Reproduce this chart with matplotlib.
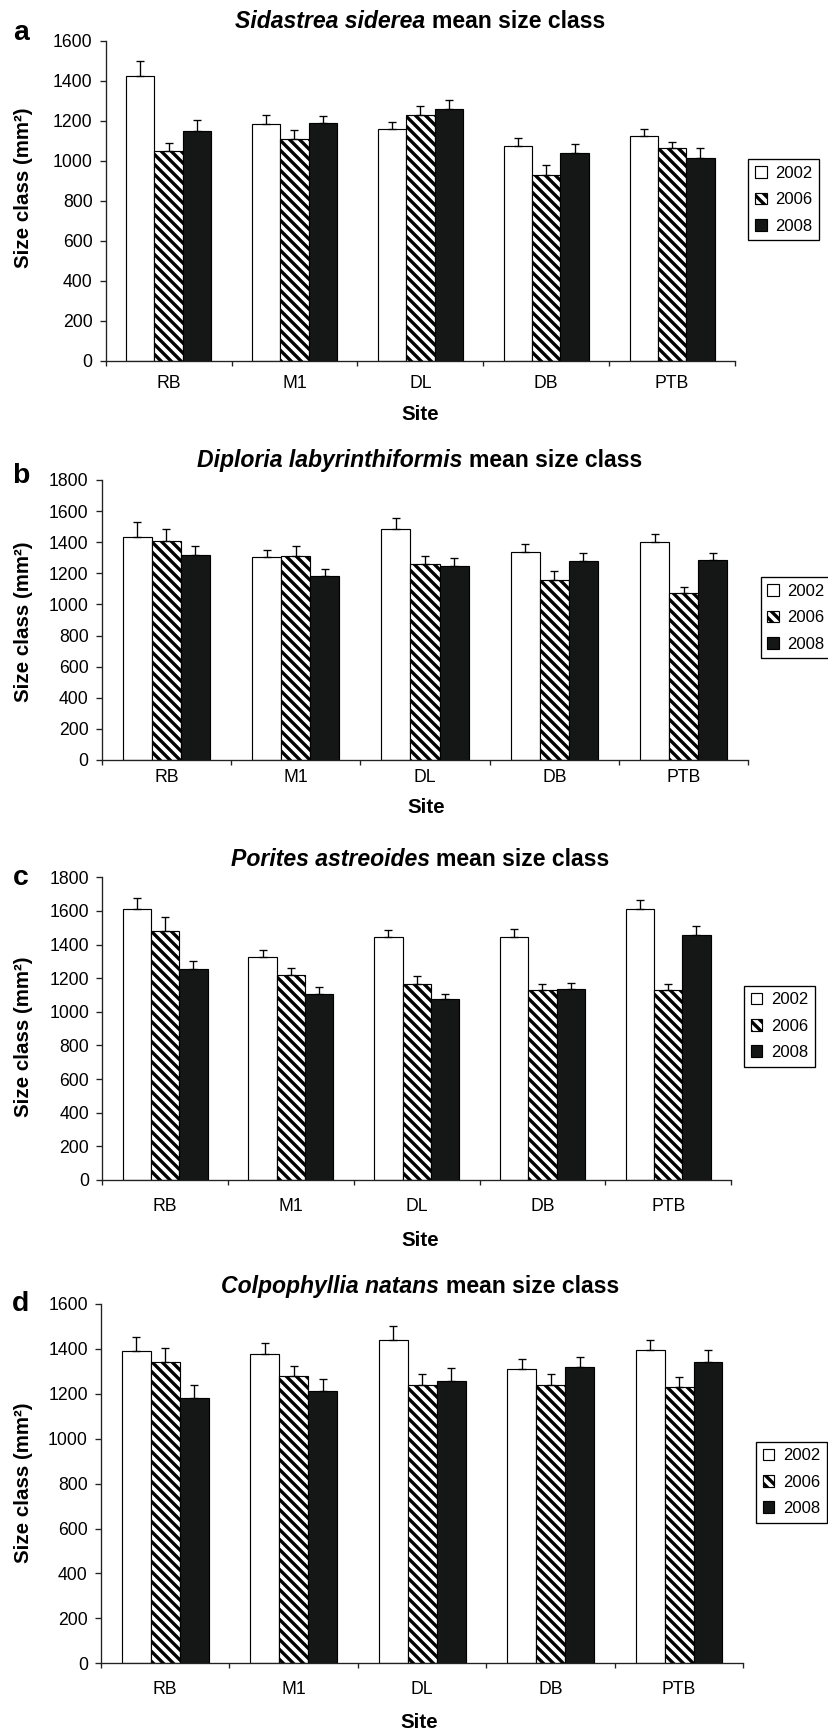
import numpy as np
import matplotlib
matplotlib.use("Agg")
import matplotlib.pyplot as plt

plt.rcParams['font.family'] = ['Liberation Sans', 'DejaVu Sans']
plt.rcParams['hatch.linewidth'] = 2.0

sites = ["RB", "M1", "DL", "DB", "PTB"]
years = ["2002", "2006", "2008"]

# Panel a: Sidastrea siderea
a_2002 = [1423, 1183, 1160, 1073, 1122]
a_2006 = [1048, 1110, 1227, 927, 1062]
a_2008 = [1147, 1190, 1258, 1037, 1012]
a_err_2002 = [74, 44, 35, 39, 38]
a_err_2006 = [42, 43, 48, 50, 30]
a_err_2008 = [55, 35, 44, 48, 50]

# Panel b: Diploria labyrinthiformis
b_2002 = [1436, 1307, 1485, 1337, 1404]
b_2006 = [1410, 1309, 1262, 1157, 1071]
b_2008 = [1316, 1183, 1249, 1279, 1286]
b_err_2002 = [94, 45, 69, 52, 51]
b_err_2006 = [77, 65, 47, 60, 43]
b_err_2008 = [58, 43, 52, 50, 43]

# Panel c: Porites astreoides
c_2002 = [1614, 1326, 1447, 1447, 1612]
c_2006 = [1483, 1217, 1168, 1132, 1132]
c_2008 = [1255, 1104, 1074, 1138, 1455]
c_err_2002 = [65, 44, 38, 44, 51]
c_err_2006 = [79, 46, 43, 36, 36]
c_err_2008 = [49, 42, 34, 36, 58]

# Panel d: Colpophyllia natans
d_2002 = [1391, 1379, 1440, 1309, 1395]
d_2006 = [1342, 1278, 1239, 1239, 1229]
d_2008 = [1181, 1213, 1256, 1321, 1342]
d_err_2002 = [64, 49, 62, 45, 45]
d_err_2006 = [64, 47, 49, 49, 44]
d_err_2008 = [58, 55, 59, 43, 55]

panels = [
    dict(letter="a", species="Sidastrea siderea", ymax=1600,
         vals=[a_2002, a_2006, a_2008], errs=[a_err_2002, a_err_2006, a_err_2008],
         box=(105.7, 735, 40.7, 360.7), title_y=28.3, label_y=40, ylab_y=188,
         site_y=414.5, site_x=420, legend=(748.3, 159.3), tickpad=8.4, letter_x=13),
    dict(letter="b", species="Diploria labyrinthiformis", ymax=1800,
         vals=[b_2002, b_2006, b_2008], errs=[b_err_2002, b_err_2006, b_err_2008],
         box=(101.7, 748.3, 480, 760), title_y=466.7, label_y=483, ylab_y=621.7,
         site_y=808, site_x=425.8, legend=(760.7, 577.3), tickpad=5.4, letter_x=12),
    dict(letter="c", species="Porites astreoides", ymax=1800,
         vals=[c_2002, c_2006, c_2008], errs=[c_err_2002, c_err_2006, c_err_2008],
         box=(102.3, 731, 877.3, 1180), title_y=866, label_y=885, ylab_y=1036.7,
         site_y=1240, site_x=420, legend=(744, 985.7), tickpad=10.8, letter_x=13),
    dict(letter="d", species="Colpophyllia natans", ymax=1600,
         vals=[d_2002, d_2006, d_2008], errs=[d_err_2002, d_err_2006, d_err_2008],
         box=(101, 743.3, 1304, 1663.3), title_y=1292.7, label_y=1310.7, ylab_y=1483,
         site_y=1722, site_x=419.7, legend=(756, 1441.7), tickpad=10.8, letter_x=12),
]

W, H = 828, 1733
DPI = 120
fig = plt.figure(figsize=(W / DPI, H / DPI), dpi=DPI)
fig.patch.set_facecolor("white")

styles = [
    dict(color="white", edgecolor="black", hatch=None),
    dict(color="white", edgecolor="black", hatch="\\" * 4),
    dict(color="#151717", edgecolor="black", hatch=None),
]
bw = 0.225
spine_col = "#222222"

renderer = fig.canvas.get_renderer()


def fx(px):
    return px / W


def fy(py):
    return 1 - py / H


for p in panels:
    l, r, t, b = p["box"]
    ax = fig.add_axes([fx(l), fy(b), (r - l) / W, (b - t) / H])
    x = np.arange(len(sites)) + 0.5
    conts = []
    for i, (v, e) in enumerate(zip(p["vals"], p["errs"])):
        xi = x + (i - 1) * bw
        st = styles[i]
        c = ax.bar(xi, v, width=bw, color=st["color"], edgecolor=st["edgecolor"],
                   hatch=st["hatch"], linewidth=0.7, label=years[i], zorder=2)
        conts.append(c)
        ax.errorbar(xi, v, yerr=[np.zeros(len(v)), e], fmt="none", ecolor="black",
                    elinewidth=0.8, capsize=2.2, capthick=0.8, zorder=3)
    ax.set_xlim(0, 5)
    ax.set_ylim(0, p["ymax"])
    ax.set_yticks(np.arange(0, p["ymax"] + 1, 200))
    ax.set_xticks(np.arange(6))
    ax.set_xticklabels([])
    ax.set_xticks(x, minor=True)
    ax.set_xticklabels(sites, minor=True, fontsize=10.6)
    ax.tick_params(axis="x", which="minor", length=0, pad=p["tickpad"])
    ax.tick_params(axis="x", which="major", length=3, width=0.8, color=spine_col)
    ax.tick_params(axis="y", length=3.4, width=0.8, color=spine_col, pad=4.5,
                   labelsize=10.6)
    for s in ["top", "right"]:
        ax.spines[s].set_visible(False)
    for s in ["left", "bottom"]:
        ax.spines[s].set_color(spine_col)
        ax.spines[s].set_linewidth(0.8)

    # Title: italic species + bold rest, centered at x=420
    t1 = fig.text(0, fy(p["title_y"]), p["species"], style="italic", weight="bold",
                  fontsize=13.8, va="baseline", ha="left")
    t2 = fig.text(0, fy(p["title_y"]), "mean size class", weight="bold",
                  fontsize=13.8, va="baseline", ha="left")
    w1 = t1.get_window_extent(renderer).width
    w2 = t2.get_window_extent(renderer).width
    gap = 0.278 * 13.8 * DPI / 72
    total = w1 + gap + w2
    x0 = 420 - total / 2
    t1.set_x(fx(x0))
    t2.set_x(fx(x0 + w1 + gap))

    fig.text(fx(p["letter_x"]), fy(p["label_y"]), p["letter"], weight="bold",
             fontsize=17, va="baseline", ha="left")
    fig.text(fx(24), fy(p["ylab_y"]), "Size class (mm²)", rotation=90, weight="bold",
             fontsize=12.3, ha="center", va="center")
    fig.text(fx(p["site_x"]), fy(p["site_y"]), "Site", weight="bold", fontsize=12.3,
             ha="center", va="center")

    lx, ly = p["legend"]
    leg = fig.legend(conts, years, loc="upper left", bbox_to_anchor=(fx(lx), fy(ly)),
                     bbox_transform=fig.transFigure, borderaxespad=0, frameon=True,
                     fancybox=False, edgecolor="black", framealpha=1, fontsize=10,
                     handlelength=0.7, handleheight=0.7, handletextpad=0.5,
                     labelspacing=0.68, borderpad=0.4)
    leg.get_frame().set_linewidth(0.8)

fig.savefig("out.png", dpi=DPI)
